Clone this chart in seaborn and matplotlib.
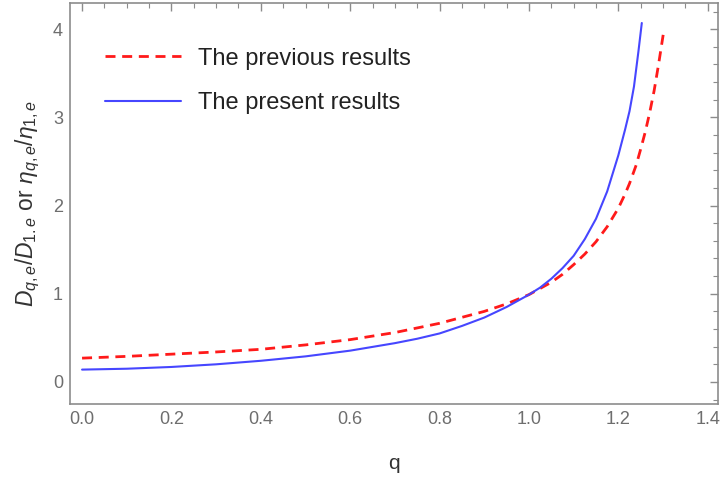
import matplotlib
matplotlib.use('Agg')
import matplotlib.pyplot as plt
import seaborn as sns
import pandas as pd
from matplotlib.ticker import MultipleLocator

# courbe "previous results" (rouge, tirets)
q_prev = [0.0, 0.1, 0.2, 0.3, 0.4, 0.5, 0.6, 0.7, 0.8, 0.9, 0.95,
          1.0, 1.05, 1.075, 1.1, 1.125, 1.15, 1.175, 1.2, 1.215, 1.225, 1.24,
          1.25, 1.26, 1.27, 1.28, 1.29, 1.302]
y_prev = [0.27, 0.29, 0.315, 0.34, 0.37, 0.42, 0.48, 0.56, 0.665, 0.80, 0.885,
          0.99, 1.13, 1.22, 1.33, 1.45, 1.59, 1.76, 1.97, 2.13, 2.25, 2.46,
          2.64, 2.83, 3.05, 3.30, 3.60, 3.99]

# courbe "present results" (bleu, continu)
q_pres = [0.0, 0.1, 0.2, 0.3, 0.4, 0.5, 0.6, 0.7, 0.75, 0.8, 0.85, 0.9, 0.95,
          1.0, 1.025, 1.05, 1.075, 1.1, 1.125, 1.15, 1.175, 1.2, 1.215, 1.225,
          1.235, 1.245, 1.2525]
y_pres = [0.14, 0.15, 0.17, 0.20, 0.24, 0.29, 0.355, 0.44, 0.49, 0.55, 0.635, 0.73, 0.85,
          0.99, 1.07, 1.17, 1.29, 1.43, 1.62, 1.85, 2.16, 2.57, 2.86, 3.07,
          3.35, 3.75, 4.07]

legend_labels = ['The previous results', 'The present results']

df_prev = pd.DataFrame({'q': q_prev, 'val': y_prev})
df_pres = pd.DataFrame({'q': q_pres, 'val': y_pres})

sns.set_style('white')
plt.rcParams['font.family'] = ['Liberation Sans', 'DejaVu Sans']
plt.rcParams['mathtext.fontset'] = 'custom'
plt.rcParams['mathtext.rm'] = 'Liberation Sans'
plt.rcParams['mathtext.it'] = 'Liberation Sans:italic'

fig = plt.figure(figsize=(7.22, 4.8), dpi=100)
ax = fig.add_axes([70 / 722, 1 - 404 / 480, 648 / 722, 401.3 / 480])

sns.lineplot(data=df_prev, x='q', y='val', ax=ax, color='#FF1A1A', linewidth=2.0,
             label=legend_labels[0], sort=False)
sns.lineplot(data=df_pres, x='q', y='val', ax=ax, color='#4646FF', linewidth=1.5,
             label=legend_labels[1], sort=False)
ax.lines[0].set_dashes((3.6, 2.4))

ax.set_xlim(-0.027, 1.423)
ax.set_ylim(-0.25, 4.30)
ax.xaxis.set_major_locator(MultipleLocator(0.2))
ax.xaxis.set_minor_locator(MultipleLocator(0.05))
ax.yaxis.set_major_locator(MultipleLocator(1))
ax.yaxis.set_minor_locator(MultipleLocator(0.2))
ax.xaxis.set_major_formatter(matplotlib.ticker.FormatStrFormatter('%.1f'))

frame_col = '#8C8C8C'
for s in ax.spines.values():
    s.set_color(frame_col)
    s.set_linewidth(1.2)
ax.tick_params(which='both', direction='in', top=True, right=True,
               color=frame_col, labelcolor='#6E6E6E', labelsize=13)
ax.tick_params(which='major', length=6, width=1.0, pad=5)
ax.tick_params(which='minor', length=3.5, width=0.8)

ax.set_xlabel('q', fontsize=15, color='#333333', labelpad=19)
ax.set_ylabel(r'$D_{q,e}/D_{1.e}$ or $\eta_{q,e}/\eta_{1,e}$', fontsize=16.5,
              color='#333333', labelpad=8)

leg = ax.legend(loc='upper left', bbox_to_anchor=(0.054, 0.888), frameon=False,
                fontsize=17, handlelength=3.2, handletextpad=0.75,
                labelspacing=0.95, borderpad=0, borderaxespad=0)
for t in leg.get_texts():
    t.set_color('#222222')

fig.savefig('out.png', dpi=100)
